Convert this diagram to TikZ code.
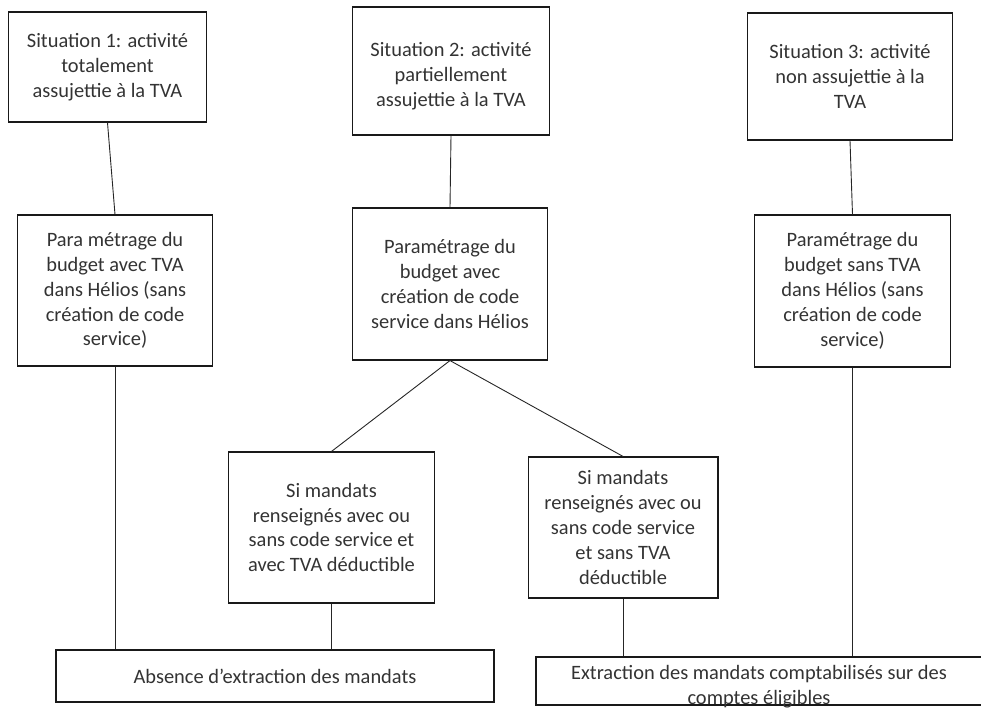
\documentclass[tikz,border=0pt]{standalone}
\usepackage{fontspec}
\setmainfont{Carlito}

\begin{document}
\begin{tikzpicture}[x=1bp, y=-1bp,
  box/.style={draw=black!90, line width=1.7bp, align=center, inner sep=0pt,
    text=black!80, font=\fontsize{20.5}{25}\selectfont},
  link/.style={draw=black!85, line width=0.9bp}]

\useasboundingbox (0,0) rectangle (981,711);

% Top row: the three situations
\node[box, minimum width=199, minimum height=110] (sit1) at (107.5,67)
  {Situation 1: activité\\ totalement\\ assujettie à la TVA};
\node[box, minimum width=198, minimum height=128, text height=75bp, text depth=5bp]
  (sit2) at (451,71)
  {Situation 2: activité\\ partiellement\\ assujettie à la TVA};
\node[box, minimum width=206, minimum height=127] (sit3) at (850,76.5)
  {Situation 3: activité\\ non assujettie à la\\ TVA};

% Second row: budget setup in Hélios
\node[box, minimum width=196, minimum height=151] (param1) at (115,290.5)
  {Para métrage du\\ budget avec TVA\\ dans Hélios (sans\\ création de code\\ service)};
\node[box, minimum width=196, minimum height=152] (param2) at (450,284)
  {Paramétrage du\\ budget avec\\ création de code\\ service dans Hélios};
\node[box, minimum width=197, minimum height=152] (param3) at (852.5,291)
  {Paramétrage du\\ budget sans TVA\\ dans Hélios (sans\\ création de code\\ service)};

% Third row: the two cases of situation 2
\node[box, minimum width=207, minimum height=151] (mand1) at (331.5,527.5)
  {Si mandats\\ renseignés avec ou\\ sans code service et\\ avec TVA déductible};
\node[box, minimum width=190, minimum height=141] (mand2) at (623,527.5)
  {Si mandats\\ renseignés avec ou\\ sans code service\\ et sans TVA\\ déductible};

% Bottom row: outcome
\node[box, minimum width=440, minimum height=52] (absence) at (275,676)
  {Absence d’extraction des mandats};
\node[box, minimum width=448, minimum height=48, text height=47bp, text depth=0bp]
  (extract) at (759,681)
  {Extraction des mandats comptabilisés sur des\\ comptes éligibles};

% Connectors
\draw[link] (sit1.south) -- (param1.north);
\draw[link] (sit2.south) -- (param2.north);
\draw[link] (sit3.south) -- (param3.north);
\draw[link] (param2.south) -- (mand1.north);
\draw[link] (param2.south) -- (mand2.north);
\draw[link] (param1.south) -- (param1.south |- absence.north);
\draw[link] (mand1.south) -- (mand1.south |- absence.north);
\draw[link] (mand2.south) -- (mand2.south |- extract.north);
\draw[link] (param3.south) -- (param3.south |- extract.north);

\end{tikzpicture}
\end{document}
